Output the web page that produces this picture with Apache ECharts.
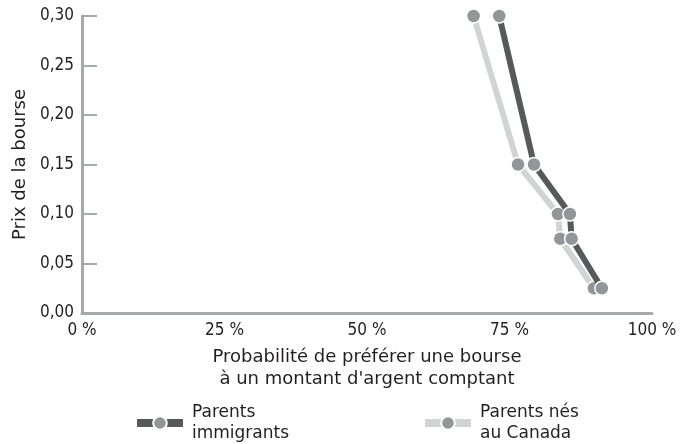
<!DOCTYPE html>
<html>
<head>
<meta charset="utf-8">
<script src="https://cdn.jsdelivr.net/npm/echarts@6/dist/echarts.min.js"></script>
<style>html,body{margin:0;padding:0;background:#fff}#c{width:681px;height:444px}</style>
</head>
<body>
<div id="c"></div>
<script>
const prices = [0.30, 0.15, 0.10, 0.075, 0.025];
const immigrants = [73.2, 79.3, 85.6, 85.9, 91.2];
const canada = [68.7, 76.5, 83.5, 83.9, 89.8];
const xTicks = [0, 25, 50, 75, 100];
const yTicks = [0, 0.05, 0.10, 0.15, 0.20, 0.25, 0.30];
const seriesNames = ['Parents immigrants', 'Parents nés au Canada'];
const legendLabels = ['Parents\nimmigrants', 'Parents nés\nau Canada'];

const narrow = '"DejaVu Sans Condensed", "Liberation Sans Narrow", sans-serif';
const regular = '"DejaVu Sans", sans-serif';
const chart = echarts.init(document.getElementById('c'));
const pts = (xs) => xs.map((x, i) => [x, prices[i]]);
const marker = {color: '#939598', borderColor: '#ffffff', borderWidth: 1.5};
const legendText = {color: '#231f20', fontFamily: regular, fontSize: 17, lineHeight: 21, padding: [0, 0, 0, 4]};
chart.setOption({
  animation: false,
  grid: {left: 82, right: 29, top: 16, bottom: 131, containLabel: false},
  xAxis: {
    type: 'value', min: 0, max: 100, interval: 25,
    axisLine: {show: true, lineStyle: {color: '#a7a9ac', width: 3}},
    axisTick: {show: false},
    splitLine: {show: false},
    axisLabel: {formatter: v => v + ' %', color: '#231f20', fontFamily: narrow, fontSize: 17, margin: 9},
    name: 'Probabilité de préférer une bourse\nà un montant d\'argent comptant',
    nameLocation: 'middle', nameGap: 33,
    nameTextStyle: {color: '#231f20', fontFamily: regular, fontSize: 18, lineHeight: 22}
  },
  yAxis: {
    type: 'value', min: 0, max: 0.3, interval: 0.05,
    axisLine: {show: true, lineStyle: {color: '#a7a9ac', width: 3}},
    axisTick: {show: true, inside: true, length: 15, lineStyle: {color: '#a7a9ac', width: 2}},
    splitLine: {show: false},
    axisLabel: {formatter: v => v.toFixed(2).replace('.', ','), color: '#231f20', fontFamily: narrow, fontSize: 17, margin: 8},
    name: 'Prix de la bourse', nameLocation: 'middle', nameGap: 50,
    nameTextStyle: {color: '#231f20', fontFamily: regular, fontSize: 18}
  },
  legend: [
    {data: [seriesNames[0]], left: 128, top: 397, itemWidth: 46, itemHeight: 17,
     lineStyle: {width: 8}, formatter: () => legendLabels[0], textStyle: legendText},
    {data: [seriesNames[1]], left: 416, top: 397, itemWidth: 46, itemHeight: 17,
     lineStyle: {width: 8}, formatter: () => legendLabels[1], textStyle: legendText}
  ],
  series: [
    {name: seriesNames[1], type: 'line', data: pts(canada), symbol: 'circle', symbolSize: 14,
     lineStyle: {color: '#d1d3d4', width: 6}, itemStyle: marker, z: 2},
    {name: seriesNames[0], type: 'line', data: pts(immigrants), symbol: 'circle', symbolSize: 14,
     lineStyle: {color: '#58595b', width: 6}, itemStyle: marker, z: 3}
  ]
});
</script>
</body>
</html>
